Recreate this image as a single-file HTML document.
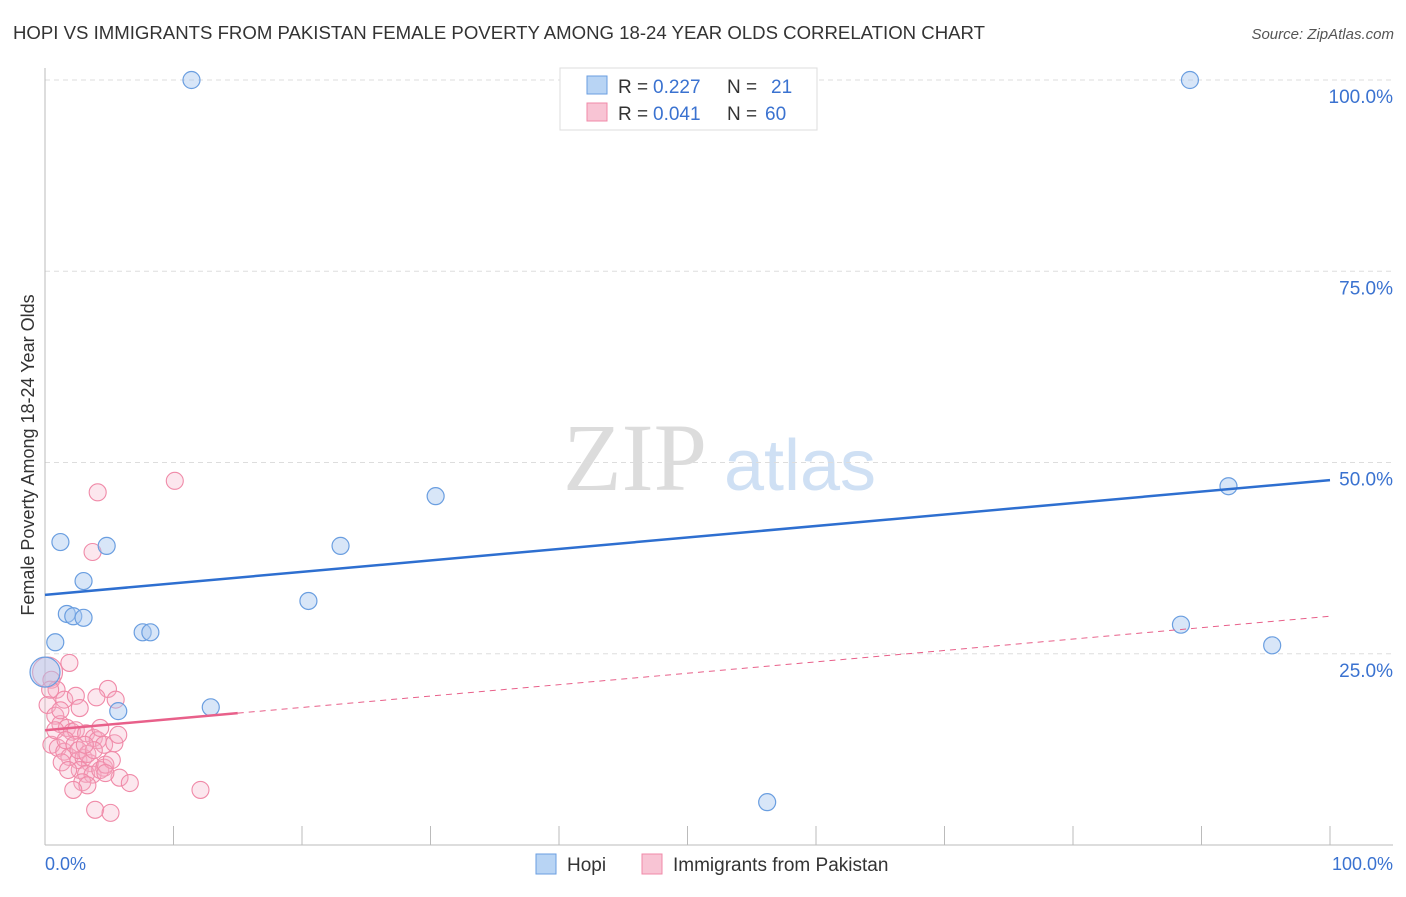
<!DOCTYPE html>
<html><head><meta charset="utf-8"><style>
body{margin:0;background:#fff;font-family:"Liberation Sans",sans-serif;}
</style></head><body>
<svg id="chart" width="1406" height="892" viewBox="0 0 1406 892" xmlns="http://www.w3.org/2000/svg">
<text x="13" y="39" font-size="18" fill="#333" textLength="972" lengthAdjust="spacingAndGlyphs">HOPI VS IMMIGRANTS FROM PAKISTAN FEMALE POVERTY AMONG 18-24 YEAR OLDS CORRELATION CHART</text>
<text x="1394" y="39" font-size="15" fill="#555" font-style="italic" text-anchor="end">Source: ZipAtlas.com</text>
<text x="635" y="490" font-size="96" fill="#dcdcdc" font-family="Liberation Serif,serif" text-anchor="middle">ZIP</text>
<text x="800" y="490" font-size="72" fill="#cfe0f4" text-anchor="middle">atlas</text>
<g id="grid"></g>
<g id="axes"></g>
<g id="marks"></g>
<g>
<rect x="560" y="68" width="257" height="62" fill="#fff" stroke="#ddd"/>
<rect x="587" y="76" width="20" height="18" fill="#b8d4f4" stroke="#6a9ee0"/>
<text x="618" y="93" font-size="19" fill="#333">R =</text>
<text x="653" y="93" font-size="19" fill="#3a72d0">0.227</text>
<text x="727" y="93" font-size="19" fill="#333">N =</text>
<text x="771" y="93" font-size="19" fill="#3a72d0">21</text>
<rect x="587" y="103" width="20" height="18" fill="#f8c4d4" stroke="#f08aa8"/>
<text x="618" y="120" font-size="19" fill="#333">R =</text>
<text x="653" y="120" font-size="19" fill="#3a72d0">0.041</text>
<text x="727" y="120" font-size="19" fill="#333">N =</text>
<text x="765" y="120" font-size="19" fill="#3a72d0">60</text>
</g>
<g>
<rect x="536" y="854" width="20" height="20" fill="#b8d4f4" stroke="#6a9ee0"/>
<text x="567" y="871" font-size="19" fill="#333">Hopi</text>
<rect x="642" y="854" width="20" height="20" fill="#f8c4d4" stroke="#f08aa8"/>
<text x="673" y="871" font-size="19" fill="#333">Immigrants from Pakistan</text>
</g>
<text x="45" y="870" font-size="18" fill="#3a72d0">0.0%</text>
<text x="1393" y="870" font-size="18" fill="#3a72d0" text-anchor="end">100.0%</text>
<text transform="translate(34,455) rotate(-90)" font-size="18" fill="#333" text-anchor="middle">Female Poverty Among 18-24 Year Olds</text>
</svg>
<script>
const yTicks=[25,50,75,100];
const yTickLabels=["25.0%","50.0%","75.0%","100.0%"];
const xTicks=[0,10,20,30,40,50,60,70,80,90,100];
const hopiX=[11.4,89.1,30.4,92.1,1.2,4.8,23.0,3.0,1.7,2.2,3.0,20.5,7.6,8.2,88.4,95.5,0.8,12.9,5.7,56.2,0];
const hopiY=[100,100,45.6,46.9,39.6,39.1,39.1,34.5,30.2,29.9,29.7,31.9,27.8,27.8,28.8,26.1,26.5,18.0,17.5,5.6,22.6];
const pakX=[10.1,4.1,3.7,1.9,0.2,0.5,0.9,1.5,2.4,0.2,4.9,4.0,5.5,2.7,0.8,1.2,1.7,2.1,2.4,3.2,3.8,0.5,1.0,1.5,1.9,2.6,3.0,3.5,4.1,4.6,5.4,2.7,3.2,3.7,4.6,4.3,1.3,2.9,3.3,5.8,6.6,2.2,3.9,5.1,12.1,0.8,1.6,2.3,2.6,4.7,3.3,3.8,1.2,0.4,5.2,4.7,1.8,3.1,4.3,5.7];
const pakY=[47.6,46.1,38.3,23.8,22.6,21.6,20.3,19.0,19.5,18.3,20.4,19.3,19.0,17.9,16.9,15.8,15.3,14.8,15.0,14.6,14.0,13.1,12.7,12.2,11.5,11.1,11.4,10.7,13.7,13.1,13.3,9.8,9.3,9.2,10.1,9.8,10.8,8.2,7.8,8.8,8.1,7.2,4.6,4.2,7.2,15.0,13.7,13.1,12.4,10.5,11.9,12.4,17.6,20.3,11.1,9.4,9.8,13.1,15.3,14.4];
const hopiTrend=[32.7,47.7];
const pakTrend=[15.0,29.9];
const pakSolidEnd=15;
const NS="http://www.w3.org/2000/svg";
const X=v=>45+v*12.85, Y=v=>845-v*7.65;
function mk(tag,attrs,parent){const e=document.createElementNS(NS,tag);for(const k in attrs)e.setAttribute(k,attrs[k]);document.getElementById(parent).appendChild(e);return e;}
yTicks.forEach((t,i)=>{
 const l=mk('line',{x1:45,x2:1393,y1:Y(t),y2:Y(t),stroke:'#ddd','stroke-dasharray':'5,4'},'grid');
 
 
 const tx=mk('text',{x:1393,y:Y(t)+23,'font-size':19,fill:'#3a72d0','text-anchor':'end'},'grid');
 tx.textContent=yTickLabels[i];
 
 
});
const ax=mk('line',{x1:45,x2:45,y1:68,y2:845,stroke:'#bbb'},'axes');


const bx=mk('line',{x1:45,x2:1393,y1:845,y2:845,stroke:'#bbb'},'axes');


xTicks.forEach(t=>{
 const l=mk('line',{x1:X(t),x2:X(t),y1:826,y2:845,stroke:'#bbb'},'axes');
 
 
});
pakX.forEach((x,i)=>{
 const c=mk('circle',{cx:X(x),cy:Y(pakY[i]),r:i==4?15:8.5,fill:'#f6b0c6','fill-opacity':0.3,stroke:'#f08aa8','stroke-width':1.1},'marks');
 
 
});
hopiX.forEach((x,i)=>{
 const c=mk('circle',{cx:X(x),cy:Y(hopiY[i]),r:i==20?15:8.5,fill:'#a8c8f0','fill-opacity':0.45,stroke:'#6a9ee0','stroke-width':1.2},'marks');
 
 
});
const pt=v=>pakTrend[0]+(pakTrend[1]-pakTrend[0])*v/100;
const pd=mk('line',{x1:X(pakSolidEnd),y1:Y(pt(pakSolidEnd)),x2:X(100),y2:Y(pt(100)),stroke:'#e8608a','stroke-width':1,'stroke-dasharray':'6,5'},'marks');


const ps=mk('line',{x1:X(0),y1:Y(pt(0)),x2:X(pakSolidEnd),y2:Y(pt(pakSolidEnd)),stroke:'#e8608a','stroke-width':2.5},'marks');


const hl=mk('line',{x1:X(0),y1:Y(hopiTrend[0]),x2:X(100),y2:Y(hopiTrend[1]),stroke:'#2e6fd0','stroke-width':2.5},'marks');


</script>
</body></html>
